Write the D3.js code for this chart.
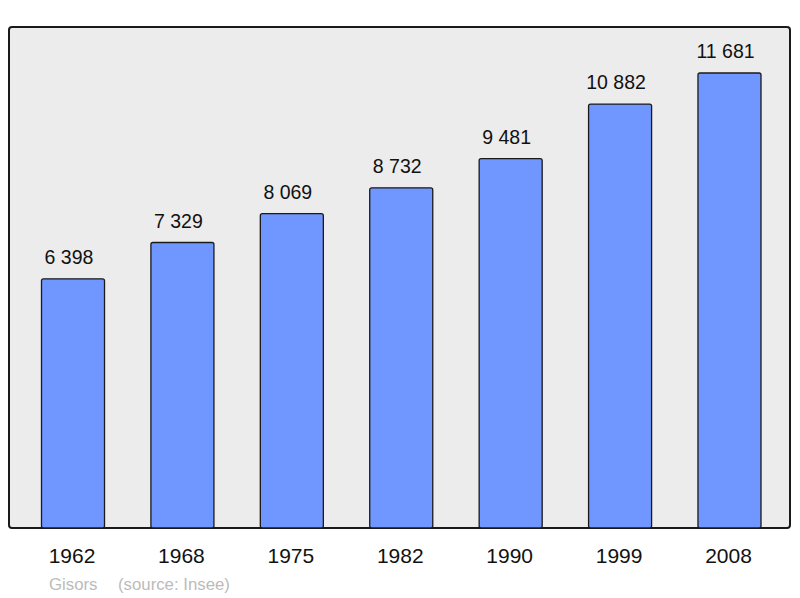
<!DOCTYPE html>
<html><head><meta charset="utf-8">
<script src="https://cdn.jsdelivr.net/npm/d3@7"></script>
<style>body{margin:0;background:#fff}svg{display:block;font-family:"Liberation Sans",Arial,sans-serif}</style>
</head><body>
<script>
const years = ["1962","1968","1975","1982","1990","1999","2008"];
const population = [6398,7329,8069,8732,9481,10882,11681];
const valueLabels = ["6 398","7 329","8 069","8 732","9 481","10 882","11 681"];
const sourceText = ["Gisors","(source: Insee)"];

const W=800,H=598;
const svg=d3.select("body").append("svg").attr("width",W).attr("height",H);
const panel={x0:9,y0:27,x1:790,y1:528};
svg.append("rect").attr("x",panel.x0).attr("y",panel.y0)
  .attr("width",panel.x1-panel.x0).attr("height",panel.y1-panel.y0)
  .attr("rx",3).attr("fill","#ececec").attr("stroke","#1a1a1a").attr("stroke-width",2);

const x=d3.scaleBand().domain(years).range([18.3,784.2]).paddingInner(0.424).paddingOuter(0.212);
const y=d3.scaleLinear().domain([0,12862]).range([panel.y1,panel.y0]);

const g=svg.append("g");
g.selectAll("rect.bar").data(years).join("rect").attr("class","bar")
  .attr("x",d=>x(d)).attr("width",x.bandwidth())
  .attr("y",(d,i)=>y(population[i])).attr("height",(d,i)=>y(0)-y(population[i]))
  .attr("rx",2).attr("fill","#7096ff").attr("stroke","#1a1a1a").attr("stroke-width",1.3);

g.selectAll("text.val").data(years).join("text").attr("class","val")
  .attr("x",d=>x(d)+x.bandwidth()/2-4).attr("y",(d,i)=>y(population[i])-15)
  .attr("text-anchor","middle").attr("font-size",19.5).attr("fill","#111")
  .text((d,i)=>valueLabels[i]);

const xAxis=d3.axisBottom(x).tickSize(0).tickPadding(0);
const ax=svg.append("g").attr("transform",`translate(0,${panel.y1})`).call(xAxis);
ax.select(".domain").remove();
ax.selectAll("text").attr("font-size",21).attr("fill","#111").attr("dy",0).attr("y",35).attr("dx",-1)
  .style("font-family","'Liberation Sans',Arial,sans-serif");

svg.append("text").attr("x",49).attr("y",590).attr("font-size",16.8).attr("fill","#bbbbbb").text(sourceText[0]);
svg.append("text").attr("x",118).attr("y",590).attr("font-size",16.8).attr("fill","#bbbbbb").text(sourceText[1]);
</script>
</body></html>
